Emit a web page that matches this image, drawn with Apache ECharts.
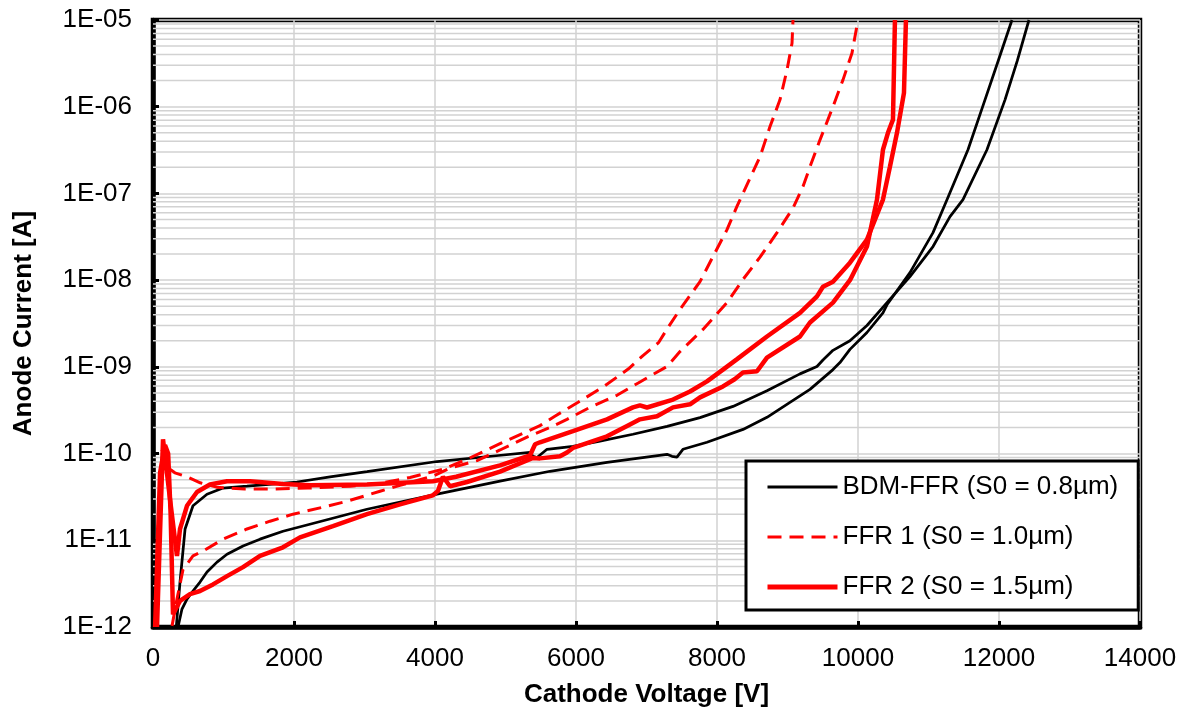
<!DOCTYPE html>
<html>
<head>
<meta charset="utf-8">
<script src="https://cdn.jsdelivr.net/npm/echarts@6/dist/echarts.min.js"></script>
<style>
html,body{margin:0;padding:0;background:#fff;}
#chart{width:1187px;height:713px;}
</style>
</head>
<body>
<div id="chart"></div>
<script>
// ---- data: [Cathode Voltage (V), Anode Current (A)] ----
const seriesNames = ['BDM-FFR (S0 = 0.8\u00b5m)', 'FFR 1 (S0 = 1.0\u00b5m)', 'FFR 2 (S0 = 1.5\u00b5m)'];

const bdmA = [[330,1e-12],[383,3.3e-12],[455,1.35e-11],[567,2.5e-11],[766,3.4e-11],[993,4e-11],[1333,4.2e-11],[2042,4.7e-11],[2511,5.4e-11],[3035,6.2e-11],[4028,8.1e-11],[4900,9.5e-11],[5347,1.03e-10],[5390,9.3e-11],[5447,9.0e-11],[5589,1.12e-10],[5957,1.21e-10],[6340,1.39e-10],[6808,1.67e-10],[7291,2.06e-10],[7759,2.6e-10],[8227,3.5e-10],[8709,5.3e-10],[9177,8.3e-10],[9418,1.01e-9],[9503,1.2e-9],[9645,1.55e-9],[9886,2.0e-9],[10127,3.0e-9],[10411,5.5e-9],[10737,1.1e-8],[11064,2.44e-8],[11305,5.4e-8],[11489,8.47e-8],[11829,3.19e-7],[12085,1.2e-6],[12260,3.4e-6],[12425,1e-5]];
const bdmB = [[355,1e-12],[411,1.61e-12],[482,2.1e-12],[567,2.6e-12],[667,3.3e-12],[766,4.3e-12],[908,5.6e-12],[1050,6.9e-12],[1277,8.6e-12],[1518,1.03e-11],[1844,1.27e-11],[2184,1.5e-11],[3035,2.28e-11],[4028,3.4e-11],[4922,4.8e-11],[5631,6.25e-11],[6440,7.9e-11],[7291,9.8e-11],[7362,9.3e-11],[7432,9.1e-11],[7517,1.12e-10],[7858,1.35e-10],[8369,1.9e-10],[8709,2.62e-10],[9035,3.9e-10],[9319,5.5e-10],[9645,9.3e-10],[9744,1.12e-9],[9886,1.59e-9],[10127,2.49e-9],[10354,4.2e-9],[10411,5.2e-9],[10737,1.22e-8],[11064,3.53e-8],[11262,8.47e-8],[11560,3.19e-7],[11801,1.2e-6],[12000,3.6e-6],[12184,1e-5]];

const ffr1A = [[30,1e-12],[80,2e-11],[130,1.1e-10],[200,7e-11],[310,6e-11],[480,5.4e-11],[670,4.6e-11],[900,4.1e-11],[1300,3.9e-11],[1700,3.9e-11],[2200,4.0e-11],[2800,4.2e-11],[3262,4.6e-11],[3645,5.3e-11],[4113,6.6e-11],[4454,8.6e-11],[4922,1.3e-10],[5305,1.8e-10],[5489,2.1e-10],[5700,2.7e-10],[6030,3.9e-10],[6390,5.9e-10],[6745,9.5e-10],[6950,1.35e-9],[7170,1.9e-9],[7300,2.8e-9],[7475,4.6e-9],[7759,9.6e-9],[7943,1.87e-8],[8142,3.82e-8],[8283,7.1e-8],[8468,1.5e-7],[8610,2.65e-7],[8752,5.9e-7],[8893,1.2e-6],[8993,2.66e-6],[9064,5.4e-6],[9078,1e-5]];
const ffr1B = [[270,1.03e-12],[340,2.1e-12],[426,4.6e-12],[567,6.6e-12],[709,7.5e-12],[993,1.03e-11],[1333,1.35e-11],[1660,1.66e-11],[1986,2.0e-11],[2411,2.41e-11],[2752,2.82e-11],[3220,3.68e-11],[3503,4.3e-11],[3971,5.5e-11],[4213,6.8e-11],[4596,8.3e-11],[4922,1.1e-10],[5305,1.55e-10],[5631,2.0e-10],[5872,2.48e-10],[6198,3.41e-10],[6581,4.7e-10],[6908,6.7e-10],[7291,1.01e-9],[7475,1.5e-9],[7801,2.7e-9],[8142,5.5e-9],[8369,1.02e-8],[8610,1.84e-8],[8851,3.53e-8],[9078,6.8e-8],[9220,1.2e-7],[9319,2.03e-7],[9461,4.15e-7],[9645,1.0e-6],[9787,2.04e-6],[9915,4.17e-6],[10000,1e-5]];

const ffr2A = [[57,1e-12],[142,1.46e-10],[241,3e-11],[340,6.6e-12],[383,1.35e-11],[482,2.5e-11],[624,3.6e-11],[808,4.4e-11],[1050,4.8e-11],[1376,4.8e-11],[1844,4.45e-11],[2227,4.3e-11],[3035,4.4e-11],[3971,4.8e-11],[4300,5.4e-11],[4922,7.3e-11],[5347,9.5e-11],[5420,1.28e-10],[5489,1.35e-10],[5957,1.81e-10],[6440,2.48e-10],[6808,3.41e-10],[6907,3.6e-10],[7007,3.4e-10],[7376,4.2e-10],[7617,5.2e-10],[7858,6.8e-10],[8085,9.3e-10],[8280,1.22e-9],[8709,2.24e-9],[9177,4.2e-9],[9418,6.5e-9],[9503,8.4e-9],[9645,9.6e-9],[9886,1.59e-8],[10127,2.93e-8],[10354,8.5e-8],[10453,2.03e-7],[10553,5e-7],[10652,1.44e-6],[10680,1e-5]];
const ffr2B = [[30,1e-12],[100,6e-11],[170,1.25e-10],[215,1.0e-10],[250,2e-11],[284,1.4e-12],[383,2.0e-12],[525,2.4e-12],[667,2.6e-12],[851,3.1e-12],[1050,3.86e-12],[1277,4.9e-12],[1518,6.6e-12],[1844,8.3e-12],[2085,1.08e-11],[2553,1.46e-11],[3035,2.0e-11],[3503,2.6e-11],[3971,3.3e-11],[4042,3.7e-11],[4113,5.4e-11],[4213,4.2e-11],[4454,4.7e-11],[4922,6.2e-11],[5390,8.9e-11],[5489,8.8e-11],[5773,9.3e-11],[5872,1.03e-10],[5957,1.16e-10],[6440,1.58e-10],[6766,2.17e-10],[6907,2.48e-10],[7149,2.69e-10],[7376,3.41e-10],[7617,3.7e-10],[7759,4.45e-10],[8085,5.95e-10],[8250,7.2e-10],[8369,8.6e-10],[8567,8.9e-10],[8709,1.28e-9],[9177,2.24e-9],[9319,3.25e-9],[9645,5.5e-9],[9886,1.0e-8],[10127,2.44e-8],[10269,8.47e-8],[10354,3.19e-7],[10425,5e-7],[10496,7.1e-7],[10524,1e-5]];

const xMin = 0, xMax = 14000, xStep = 2000;
const yMin = 1e-12, yMax = 1e-5;

// minor log grid values (2..9 per decade)
const minorVals = [];
for (let k = -12; k < -5; k++) {
  for (let m = 2; m <= 9; m++) minorVals.push(m * Math.pow(10, k));
}

const FONT = '"Liberation Sans", Arial, sans-serif';
const GRID = '#d2d2d2';
const RED = '#ff0000';
const FS = 26;
const DASH = [14, 8];

function lineSeries(name, data, color, width, type, z) {
  return {
    name: name, type: 'line', data: data, showSymbol: false, symbol: 'none',
    lineStyle: { color: color, width: width, type: type },
    itemStyle: { color: color },
    z: z, silent: true, animation: false, clip: true
  };
}

const gridSeries = minorVals.map(v => ({
  name: 'minor-' + v, type: 'line', data: [[xMin, v], [xMax, v]],
  showSymbol: false, symbol: 'none', silent: true, animation: false, z: 1,
  lineStyle: { color: GRID, width: 1.5 }
}));

const chart = echarts.init(document.getElementById('chart'), null, { renderer: 'canvas' });
chart.setOption({
  backgroundColor: '#fff',
  animation: false,
  grid: { left: 153, top: 20, right: 47, bottom: 85, show: true, borderColor: '#000', borderWidth: 4.5, backgroundColor: 'transparent' },
  xAxis: {
    type: 'value', min: xMin, max: xMax, interval: xStep,
    name: 'Cathode Voltage [V]', nameLocation: 'middle', nameGap: 55,
    nameTextStyle: { fontFamily: FONT, fontSize: FS, fontWeight: 'bold', color: '#000' },
    axisLine: { show: true, lineStyle: { color: '#000', width: 4.5 } },
    axisTick: { show: true, inside: true, length: 6, lineStyle: { color: '#000', width: 3 } },
    axisLabel: { fontFamily: FONT, fontSize: FS, color: '#000', margin: 19, formatter: v => String(v) },
    splitLine: { show: true, lineStyle: { color: GRID, width: 1.5 } }
  },
  yAxis: {
    type: 'log', logBase: 10, min: yMin, max: yMax, splitNumber: 7,
    name: 'Anode Current [A]', nameLocation: 'middle', nameGap: 116,
    nameTextStyle: { fontFamily: FONT, fontSize: FS, fontWeight: 'bold', color: '#000' },
    axisLine: { show: true, lineStyle: { color: '#000', width: 4.5 } },
    axisTick: { show: true, inside: true, length: 6, lineStyle: { color: '#000', width: 3 } },
    axisLabel: {
      fontFamily: FONT, fontSize: FS, color: '#000', margin: 21,
      formatter: function (v) {
        const e = Math.round(Math.log10(v));
        const a = Math.abs(e);
        return '1E' + (e < 0 ? '-' : '+') + (a < 10 ? '0' + a : '' + a);
      }
    },
    splitLine: { show: true, lineStyle: { color: GRID, width: 1.5 } }
  },
  legend: {
    orient: 'vertical', left: 746, top: 461,
    padding: [11, 20, 8, 19], itemGap: 20, itemWidth: 70, itemHeight: 14,
    borderColor: '#000', borderWidth: 3, backgroundColor: '#fff',
    data: [
      { name: seriesNames[0], lineStyle: { width: 3, color: '#000' } },
      { name: seriesNames[1], lineStyle: { width: 3, color: RED, type: DASH } },
      { name: seriesNames[2], lineStyle: { width: 5, color: RED } }
    ],
    itemStyle: { opacity: 0 },
    textStyle: { fontFamily: FONT, fontSize: FS, color: '#000', lineHeight: 30 }
  },
  series: gridSeries.concat([
    lineSeries(seriesNames[0], bdmA, '#000', 2.75, 'solid', 3),
    lineSeries(seriesNames[0], bdmB, '#000', 2.75, 'solid', 3),
    lineSeries(seriesNames[1], ffr1A, RED, 3, DASH, 4),
    lineSeries(seriesNames[1], ffr1B, RED, 3, DASH, 4),
    lineSeries(seriesNames[2], ffr2A, RED, 4.5, 'solid', 5),
    lineSeries(seriesNames[2], ffr2B, RED, 4.5, 'solid', 5)
  ])
});
</script>
</body>
</html>
